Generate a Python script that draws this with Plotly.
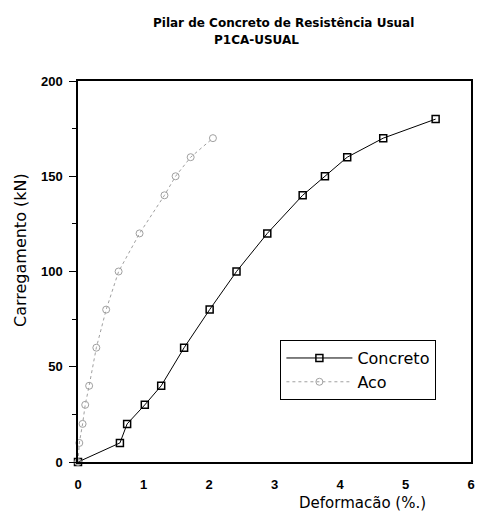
import plotly.graph_objects as go

concreto_x = [0.0, 0.64, 0.75, 1.02, 1.27, 1.62, 2.01, 2.42, 2.89, 3.43, 3.77, 4.11, 4.66, 5.46]
concreto_y = [0, 10, 20, 30, 40, 60, 80, 100, 120, 140, 150, 160, 170, 180]

aco_x = [0.0, 0.02, 0.07, 0.11, 0.17, 0.28, 0.43, 0.62, 0.94, 1.32, 1.49, 1.72, 2.06]
aco_y = [0, 10, 20, 30, 40, 60, 80, 100, 120, 140, 150, 160, 170]

x_ticks = [0, 1, 2, 3, 4, 5, 6]
y_ticks = [0, 50, 100, 150, 200]

title_line1 = "Pilar de Concreto de Resistência Usual"
title_line2 = "P1CA-USUAL"
x_title = "Deformacão (%.)"
y_title = "Carregamento (kN)"

fig = go.Figure()
fig.add_trace(go.Scatter(
    x=concreto_x, y=concreto_y, name="Concreto", mode="lines+markers",
    line=dict(color="black", width=1),
    marker=dict(symbol="square-open", size=7, color="black", line=dict(width=1.5)),
    cliponaxis=False,
))
fig.add_trace(go.Scatter(
    x=aco_x, y=aco_y, name="Aco", mode="lines+markers",
    line=dict(color="#a0a0a0", width=1, dash="dot"),
    marker=dict(symbol="circle-open", size=7, color="#a0a0a0", line=dict(width=1)),
    cliponaxis=False,
))

axis_font = dict(family="Liberation Sans, Arial", size=13, color="black", weight="bold")
title_font = dict(family="DejaVu Sans", size=12, color="black", weight="bold")

fig.update_layout(
    width=470, height=504,
    margin=dict(l=70, r=3, t=73, b=50),
    paper_bgcolor="white", plot_bgcolor="white",
    showlegend=True,
    legend=dict(
        x=0.515, y=0.32, xanchor="left", yanchor="top",
        bordercolor="black", borderwidth=1, bgcolor="white",
        font=dict(family="DejaVu Sans", size=16, color="black"),
        itemwidth=66, tracegroupgap=0,
    ),
    xaxis=dict(
        range=[0, 6], tickvals=x_ticks, ticktext=[str(v) for v in x_ticks],
        showgrid=False, zeroline=False, showline=True, linecolor="black", linewidth=1.5,
        mirror=True, ticks="", tickfont=axis_font, ticklabelstandoff=10,
        ticklabeloverflow="allow",
    ),
    yaxis=dict(
        range=[0, 200], tickvals=y_ticks, ticktext=[str(v) for v in y_ticks],
        showgrid=False, zeroline=False, showline=True, linecolor="black", linewidth=1.5,
        mirror=True, ticks="outside", ticklen=7, tickwidth=1, tickcolor="black",
        tickfont=axis_font, ticklabelstandoff=4,
        minor=dict(ticks="outside", ticklen=4, dtick=25, tickcolor="black", showgrid=False),
    ),
    annotations=[
        dict(text=title_line1, x=0.522, y=1.152, xref="paper", yref="paper",
             xanchor="center", yanchor="middle", showarrow=False, font=title_font),
        dict(text=title_line2, x=0.454, y=1.108, xref="paper", yref="paper",
             xanchor="center", yanchor="middle", showarrow=False, font=title_font),
        dict(text=x_title, x=0.725, y=-0.108, xref="paper", yref="paper",
             xanchor="center", yanchor="middle", showarrow=False,
             font=dict(family="DejaVu Sans", size=15, color="black")),
        dict(text=y_title, x=-0.148, y=0.556, xref="paper", yref="paper",
             xanchor="center", yanchor="middle", showarrow=False, textangle=-90,
             font=dict(family="DejaVu Sans", size=16, color="black")),
    ],
)

fig.write_html("out.html")
